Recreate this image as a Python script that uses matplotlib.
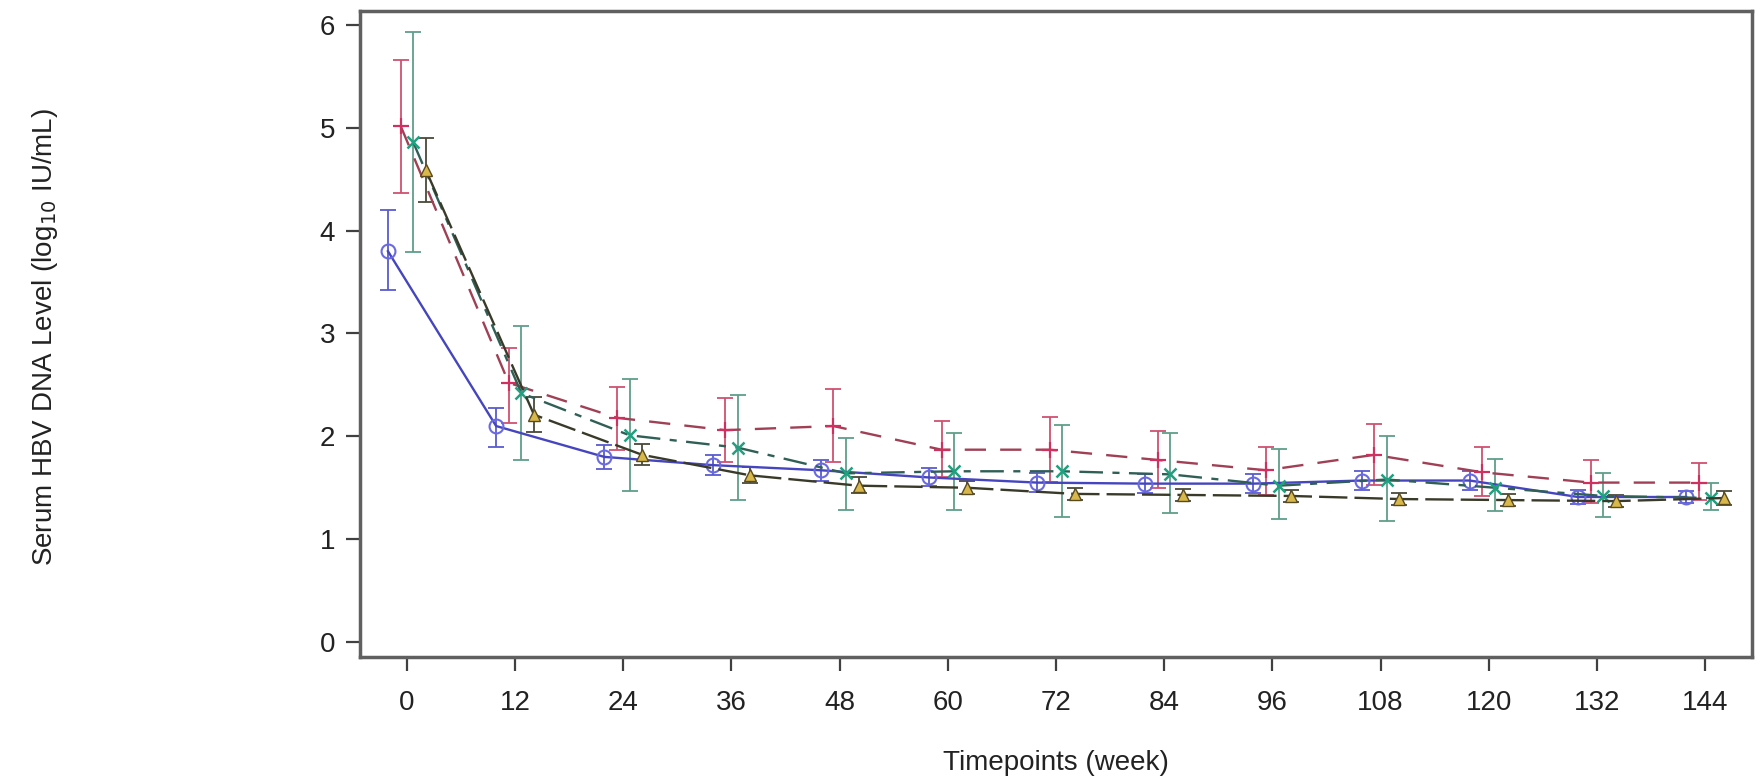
import numpy as np
import matplotlib
matplotlib.use('Agg')
import matplotlib.pyplot as plt

plt.rcParams['font.family'] = ['Liberation Sans', 'DejaVu Sans']

# ====================== DATA ======================
weeks = [0, 12, 24, 36, 48, 60, 72, 84, 96, 108, 120, 132, 144]

blue_mean = [3.80, 2.10, 1.80, 1.72, 1.67, 1.60, 1.55, 1.54, 1.54, 1.57, 1.57, 1.41, 1.41]
blue_lo   = [3.42, 1.90, 1.68, 1.62, 1.57, 1.52, 1.46, 1.45, 1.45, 1.48, 1.48, 1.34, 1.35]
blue_hi   = [4.20, 2.28, 1.92, 1.82, 1.77, 1.69, 1.64, 1.63, 1.63, 1.66, 1.66, 1.48, 1.47]

red_mean = [5.02, 2.52, 2.18, 2.06, 2.10, 1.87, 1.87, 1.77, 1.67, 1.82, 1.65, 1.55, 1.55]
red_lo   = [4.37, 2.13, 1.87, 1.75, 1.75, 1.60, 1.56, 1.50, 1.43, 1.53, 1.42, 1.35, 1.38]
red_hi   = [5.66, 2.86, 2.48, 2.37, 2.46, 2.15, 2.19, 2.05, 1.90, 2.12, 1.90, 1.77, 1.74]

green_mean = [4.86, 2.42, 2.01, 1.89, 1.64, 1.66, 1.66, 1.63, 1.52, 1.58, 1.50, 1.42, 1.40]
green_lo   = [3.79, 1.77, 1.47, 1.38, 1.28, 1.28, 1.22, 1.25, 1.20, 1.18, 1.27, 1.22, 1.28]
green_hi   = [5.93, 3.07, 2.56, 2.40, 1.98, 2.03, 2.11, 2.03, 1.88, 2.00, 1.78, 1.64, 1.55]

tri_mean = [4.59, 2.21, 1.82, 1.62, 1.52, 1.50, 1.44, 1.43, 1.42, 1.39, 1.38, 1.37, 1.40]
tri_lo   = [4.28, 2.04, 1.72, 1.55, 1.45, 1.44, 1.38, 1.37, 1.36, 1.33, 1.32, 1.31, 1.33]
tri_hi   = [4.90, 2.38, 1.93, 1.70, 1.60, 1.57, 1.50, 1.49, 1.48, 1.45, 1.44, 1.43, 1.47]

# ====================== PLOT ======================
fig = plt.figure(figsize=(17.6, 7.81), dpi=100)
ax = fig.add_axes([360/1760, 1-657/781, (1752-360)/1760, (657-11)/781])

w = np.array(weeks, dtype=float)

series = [
    # mean, lo, hi, offset, line color, bar color, linestyle, marker, marker kw
    (blue_mean, blue_lo, blue_hi, -2.1, '#4545c0', '#5a5ad0', '-', 'o',
     dict(markersize=10, markerfacecolor='none', markeredgecolor='#6a6ae0', markeredgewidth=1.5)),
    (red_mean, red_lo, red_hi, -0.7, '#a04055', '#d05070', (0, (9, 6)), '+',
     dict(markersize=11, markeredgecolor='#d03060', markeredgewidth=1.6)),
    (green_mean, green_lo, green_hi, 0.7, '#2f5f55', '#5f9f8a', (0, (10, 4, 3, 4)), 'x',
     dict(markersize=9, markeredgecolor='#20a080', markeredgewidth=1.8)),
    (tri_mean, tri_lo, tri_hi, 2.1, '#3a3a2a', '#4a4a3a', (0, (12, 3)), '^',
     dict(markersize=8, markerfacecolor='#d8b84a', markeredgecolor='#5a4a20', markeredgewidth=1.0)),
]

for mean, lo, hi, off, lc, bc, ls, mk, mkw in series:
    m = np.array(mean)
    yerr = [m - np.array(lo), np.array(hi) - m]
    ax.errorbar(w + off, m, yerr=yerr, fmt='none', ecolor=bc, elinewidth=1.3,
                capsize=6, capthick=1.3, zorder=2)
    ax.plot(w + off, m, color=lc, linestyle=ls, linewidth=1.7, marker=mk, zorder=3, **mkw)

ax.set_xlim(-5.2, 149.2)
ax.set_ylim(-0.146, 6.136)
ax.set_xticks(weeks)
ax.set_yticks(range(0, 7))

for s in ax.spines.values():
    s.set_color('#606060')
    s.set_linewidth(2.5)

ax.tick_params(axis='both', colors='#404040', labelcolor='#222222', labelsize=20,
               length=10, width=1.6)
ax.tick_params(axis='x', pad=14)
ax.tick_params(axis='y', pad=8)

ax.set_xlabel('Timepoints (week)', fontsize=20, color='#222222', labelpad=24)
fig.text(45/1760, 1-337/781, 'Serum HBV DNA Level (log$_{10}$ IU/mL)', rotation=90,
         ha='center', va='center', fontsize=20, color='#222222')

fig.savefig('out.png', dpi=100)
